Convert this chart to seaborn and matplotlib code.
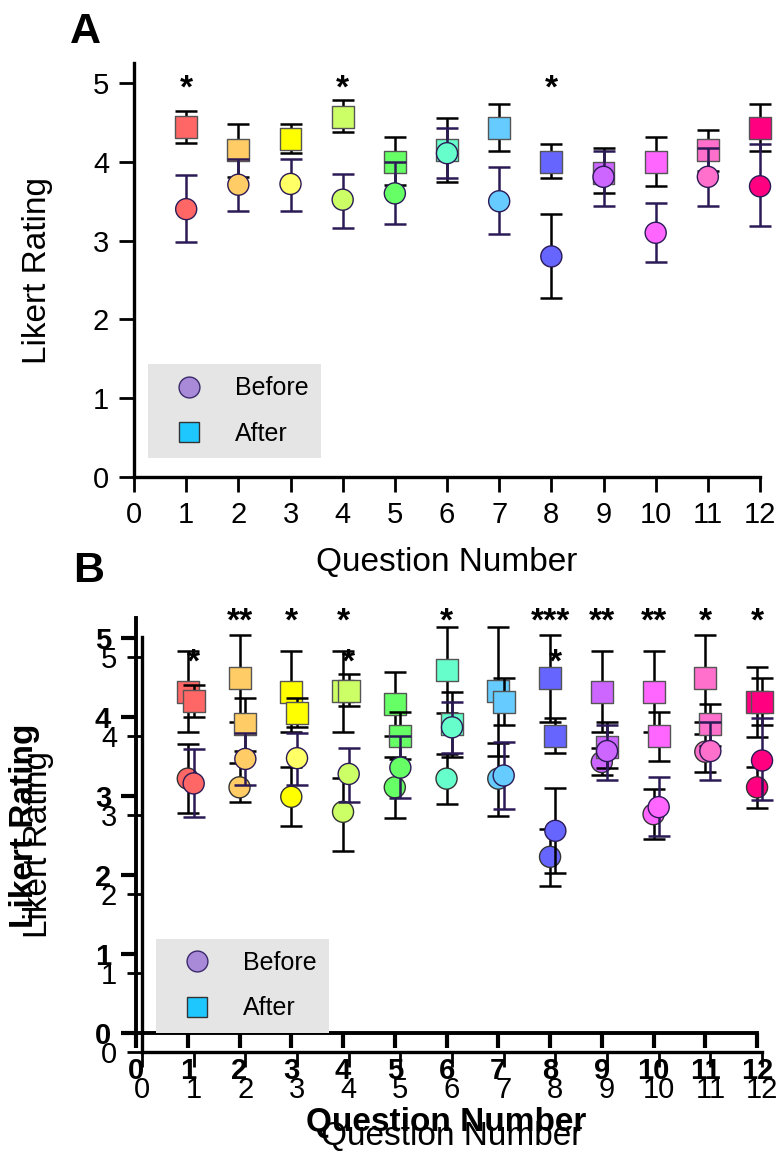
import matplotlib
matplotlib.use("Agg")
import matplotlib.pyplot as plt
from matplotlib.lines import Line2D
import seaborn as sns

questions = list(range(1, 13))

after_colors = ['#ff6666', '#ffcc66', '#ffff00', '#ccff66', '#66ff66', '#66ffcc',
                '#66ccff', '#6666ff', '#cc66ff', '#ff66ff', '#ff70cc', '#ff0080']
before_colors = ['#ff6666', '#ffcc66', '#ffff66', '#ccff66', '#66ff66', '#66ffcc',
                 '#66ccff', '#6666ff', '#cc66ff', '#ff66ff', '#ff70cc', '#ff0080']
bold_before_colors = ['#ff6666', '#ffcc66', '#ffff00', '#ccff66', '#66ff66', '#66ffcc',
                      '#66ccff', '#6666ff', '#cc66ff', '#ff66ff', '#ff70cc', '#ff0080']

# panel A (also the plain layer of panel B)
a_before = [3.40, 3.71, 3.72, 3.52, 3.60, 4.11, 3.50, 2.80, 3.81, 3.10, 3.81, 3.69]
a_before_lo = [2.98, 3.38, 3.38, 3.16, 3.21, 3.79, 3.08, 2.27, 3.44, 2.73, 3.44, 3.19]
a_before_hi = [3.83, 4.04, 4.04, 3.85, 4.00, 4.43, 3.93, 3.34, 4.14, 3.48, 4.18, 4.23]
a_after = [4.44, 4.15, 4.29, 4.57, 4.00, 4.15, 4.43, 4.00, 3.86, 4.00, 4.15, 4.43]
a_after_lo = [4.24, 3.81, 4.11, 4.38, 3.71, 3.74, 4.14, 3.79, 3.60, 3.69, 3.88, 4.14]
a_after_hi = [4.64, 4.48, 4.48, 4.78, 4.31, 4.56, 4.73, 4.23, 4.18, 4.31, 4.40, 4.73]
a_stars = ['*', '', '', '*', '', '', '', '*', '', '', '', '']

# panel B, bold layer
b_before = [3.22, 3.11, 2.99, 2.80, 3.11, 3.22, 3.22, 2.23, 3.43, 2.77, 3.56, 3.11]
b_before_lo = [2.78, 2.92, 2.62, 2.30, 2.72, 2.90, 2.75, 1.86, 3.27, 2.46, 3.30, 2.85]
b_before_hi = [3.66, 3.42, 3.37, 3.23, 3.49, 3.53, 3.67, 2.58, 3.61, 3.09, 3.78, 3.37]
b_after = [4.32, 4.49, 4.32, 4.33, 4.16, 4.59, 4.33, 4.49, 4.32, 4.32, 4.49, 4.19]
b_after_lo = [3.81, 3.94, 3.81, 3.81, 3.76, 4.05, 3.51, 3.94, 3.81, 3.81, 3.94, 3.75]
b_after_hi = [4.84, 5.04, 4.84, 4.84, 4.57, 5.14, 5.14, 5.04, 4.84, 4.84, 5.04, 4.63]
b_stars = ['', '**', '*', '*', '', '*', '', '***', '**', '**', '*', '*']

PURPLE = '#2b1a55'


def errbars(ax, means, lo, hi, colors, zorder):
    for q, m, l, h, c in zip(questions, means, lo, hi, colors):
        ax.errorbar(q, m, yerr=[[m - l], [h - m]], fmt='none', ecolor=c,
                    elinewidth=1.8, capsize=8, capthick=1.8,
                    zorder=zorder, clip_on=False)


def draw_layer(ax, before, bef_lo, bef_hi, after, aft_lo, aft_hi,
               bef_cols, bef_ecols, circ_edge, stars, star_y, bold):
    errbars(ax, after, aft_lo, aft_hi, ['black'] * 12, 2)
    sns.scatterplot(x=questions, y=after, hue=questions,
                    palette=dict(zip(questions, after_colors)),
                    marker='s', s=250, edgecolor='#555555', linewidth=1.0,
                    legend=False, ax=ax, zorder=3, clip_on=False)
    errbars(ax, before, bef_lo, bef_hi, bef_ecols, 4)
    sns.scatterplot(x=questions, y=before, hue=questions,
                    palette=dict(zip(questions, bef_cols)),
                    marker='o', s=230, edgecolor=circ_edge, linewidth=1.0,
                    legend=False, ax=ax, zorder=5, clip_on=False)
    for q, s in zip(questions, stars):
        if s:
            ax.text(q, star_y, s, ha='center', va='baseline', fontsize=24,
                    fontweight='bold', color='black', clip_on=False, zorder=6)

    ax.set_xlim(0, 12)
    ax.set_ylim(0, 5.25)
    ax.set_xticks(range(0, 13))
    ax.set_yticks(range(0, 6))
    weight = 'bold' if bold else 'normal'
    ax.set_xlabel('Question Number', fontsize=24, fontweight=weight)
    ax.set_ylabel('Likert Rating', fontsize=24, fontweight=weight)
    sns.despine(ax=ax)
    lw = 2.8 if bold else 2.4
    for side in ['left', 'bottom']:
        ax.spines[side].set_linewidth(lw)
        ax.spines[side].set_color('black')
    ax.tick_params(axis='both', direction='out', length=11,
                   width=3.0 if bold else 2.0, labelsize=21, color='black',
                   labelcolor='black')
    ax.tick_params(axis='x', pad=6.5)
    ax.tick_params(axis='y', pad=7)
    for lab in ax.get_xticklabels() + ax.get_yticklabels():
        lab.set_fontweight(weight)
    ax.patch.set_visible(False)
    ax.grid(False)


def add_legend(ax):
    handles = [
        Line2D([], [], marker='o', linestyle='none', markersize=15,
               markerfacecolor='#a98ad8', markeredgecolor='#3b2a6b'),
        Line2D([], [], marker='s', linestyle='none', markersize=14,
               markerfacecolor='#1ec8ff', markeredgecolor='#333333'),
    ]
    leg = ax.legend(handles, ['Before', 'After'], loc='lower left',
                    bbox_to_anchor=(0.022, 0.046), borderaxespad=0,
                    frameon=True, facecolor='#e5e5e5', edgecolor='none',
                    framealpha=1, fancybox=False, fontsize=18, borderpad=0.5,
                    labelspacing=0.85, handlelength=2.3, handletextpad=0.7)
    leg.set_zorder(1)


if __name__ == "__main__":
    sns.set_theme(style="ticks")
    plt.rcParams['font.family'] = ['Liberation Sans', 'DejaVu Sans']
    plt.rcParams['text.color'] = 'black'
    plt.rcParams['axes.labelcolor'] = 'black'

    fig = plt.figure(figsize=(7.76, 11.52), dpi=100)

    # panel A
    ax_a = fig.add_axes([0.1727, 0.5859, 0.8067, 0.3591])
    draw_layer(ax_a, a_before, a_before_lo, a_before_hi,
               a_after, a_after_lo, a_after_hi,
               before_colors, [PURPLE] * 7 + ['black'] + [PURPLE] * 4,
               PURPLE, a_stars, 4.82, bold=False)
    add_legend(ax_a)
    ax_a.yaxis.set_label_coords(-0.129, 0.5)
    ax_a.xaxis.set_label_coords(0.5, -0.169)

    # panel B: bold layer underneath, plain layer on top
    ax_b1 = fig.add_axes([0.1753, 0.1033, 0.8003, 0.3600])
    draw_layer(ax_b1, b_before, b_before_lo, b_before_hi,
               b_after, b_after_lo, b_after_hi,
               bold_before_colors, ['black'] * 12, '#333333',
               b_stars, 5.10, bold=True)
    ax_b1.yaxis.set_label_coords(-0.155, 0.5)
    ax_b1.xaxis.set_label_coords(0.5, -0.178)

    ax_b2 = fig.add_axes([0.1830, 0.0868, 0.7990, 0.3600])
    draw_layer(ax_b2, a_before, a_before_lo, a_before_hi,
               a_after, a_after_lo, a_after_hi,
               before_colors, [PURPLE] * 7 + ['black'] + [PURPLE] * 4,
               PURPLE, a_stars, 4.82, bold=False)
    add_legend(ax_b2)
    ax_b2.yaxis.set_label_coords(-0.142, 0.5)
    ax_b2.xaxis.set_label_coords(0.5, -0.166)

    fig.text(0.090, 1 - 43 / 1152, 'A', fontsize=31, fontweight='bold',
             ha='left', va='baseline')
    fig.text(0.094, 1 - 582 / 1152, 'B', fontsize=31, fontweight='bold',
             ha='left', va='baseline')

    fig.savefig("out.png", dpi=100)
